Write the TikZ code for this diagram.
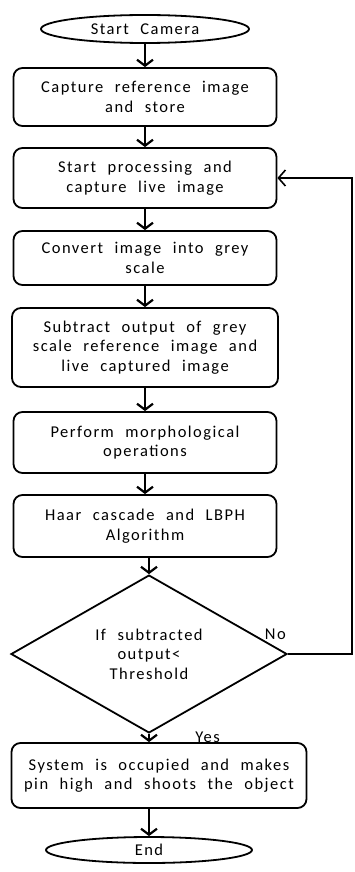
\documentclass[tikz,border=0pt]{standalone}
\usepackage{fontspec}
\setmainfont{Carlito}[LetterSpace=9, WordSpace=2.2]
\usetikzlibrary{shapes.geometric,arrows.meta}
\tikzstyle{startstop} = [ellipse, draw, line width=1.8pt, inner sep=0pt,
    minimum width=208pt, minimum height=28pt]
\tikzstyle{block} = [rectangle, draw, line width=1.8pt, align=center,
    rounded corners=9pt, minimum width=263pt, inner sep=2pt]
\tikzstyle{decision} = [diamond, draw, line width=1.8pt, align=center,
    minimum width=276pt, minimum height=138pt, inner sep=0pt]
\tikzstyle{line} = [draw, line width=2pt, -{Straight Barb[length=6pt,width=16pt,line width=2.2pt]}]
\tikzstyle{back} = [draw, line width=1.5pt, -{Straight Barb[length=7pt,width=16pt,line width=1.6pt]}]

\begin{document}
\begin{tikzpicture}[node distance = 80pt, font=\fontsize{16.5}{19.5}\selectfont]
    \useasboundingbox (0,0) rectangle (355pt,-872pt);
    % Place nodes
    \node [startstop] (start) at (145pt,-29pt) {Start Camera};
    \node [block, below of=start, node distance=68pt, minimum height=58pt] (ref) {Capture reference image\\and store};
    \node [block, below of=ref, node distance=81pt, minimum height=60pt] (live) {Start processing and\\capture live image};
    \node [block, below of=live, node distance=80pt, minimum height=54pt] (grey) {Convert image into grey\\scale};
    \node [block, below of=grey, node distance=89.5pt, minimum height=79pt, minimum width=266pt] (sub) {Subtract output of grey\\scale reference image and\\live captured image};
    \node [block, below of=sub, node distance=95pt, minimum height=61pt] (morph) {Perform morphological\\operations};
    \node [block, below of=morph, node distance=83.5pt, minimum height=62pt] (haar) {Haar cascade and LBPH\\Algorithm};
    \node [decision, below of=haar, node distance=128pt, xshift=4pt] (sig) {If subtracted\\output<\\Threshold};
    \node [block, below of=sig, node distance=121.5pt, xshift=10pt, minimum height=65pt, minimum width=295pt] (shoot) {System is occupied and makes\\pin high and shoots the object};
    \node [startstop, below of=shoot, node distance=74.5pt, xshift=-10pt, minimum height=26pt, minimum width=206pt] (stop) {End};
    \coordinate (turn) at (352pt,-654pt);
    % Draw edges
    \path [line] (start) -- (ref);
    \path [line] (ref) -- (live);
    \path [line] (live) -- (grey);
    \path [line] (grey) -- (sub);
    \path [line] (sub) -- (morph);
    \path [line] (morph) -- (haar);
    \path [line] (haar.south -| sig.north) -- (sig);
    \path [line] (sig) -- node [right=42pt, pos=0.45]{Yes}(sig.south |- shoot.north);
    \path [line] (shoot.south -| stop.north) -- (stop);
    \path [back] (sig.east) -- node [pos=0, above left, xshift=2pt, yshift=10pt]{No}(turn) |- (live.east);
\end{tikzpicture}
\end{document}
